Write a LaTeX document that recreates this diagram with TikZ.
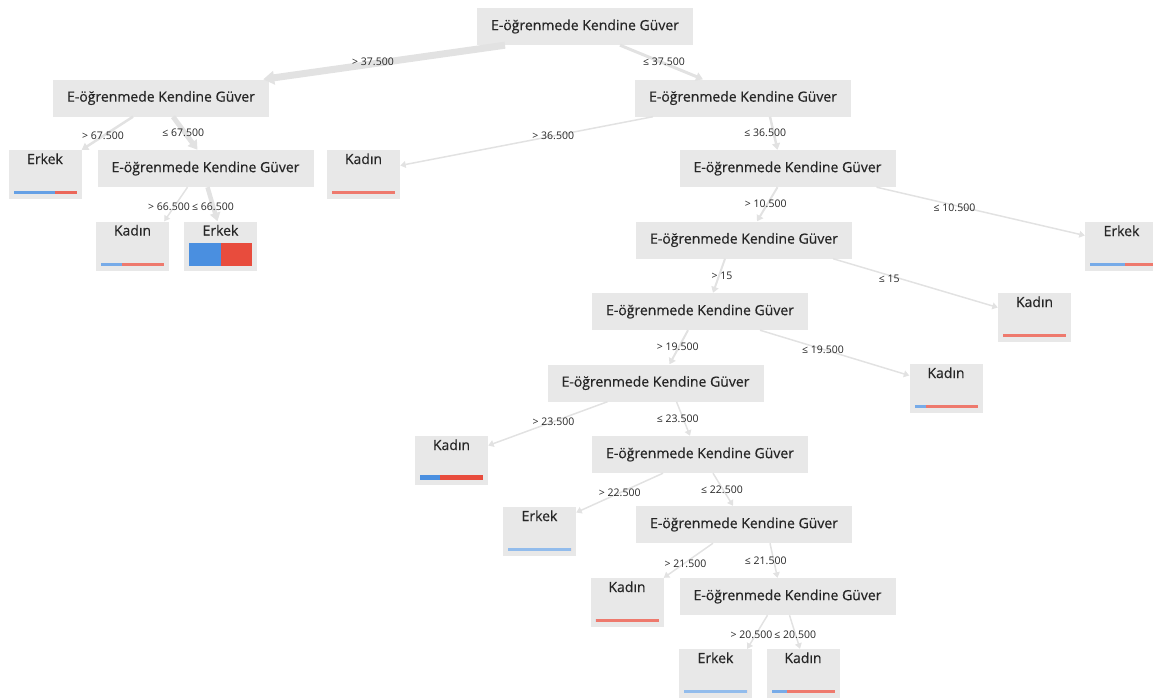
\documentclass[tikz,border=0pt]{standalone}
\usepackage{fontspec}
\setmainfont{Open Sans}
\newfontfamily\boxfont[FakeBold=0.5]{Open Sans}
\usetikzlibrary{arrows.meta,calc,positioning}
\definecolor{boxgray}{HTML}{E8E8E8}
\definecolor{linkgray}{HTML}{E2E2E2}
\definecolor{txtgray}{HTML}{262626}
\definecolor{erkblue}{HTML}{4A8FE0}
\definecolor{kadred}{HTML}{E84C3D}

\tikzset{
  split/.style={rectangle,fill=boxgray,minimum width=216pt,minimum height=37pt,inner sep=0pt,
    text=txtgray,font=\boxfont\fontsize{14}{16}\selectfont},
  leaf/.style n args={3}{rectangle,fill=boxgray,minimum width=73pt,inner sep=0pt,
    text height=14pt,text depth=35pt,text=txtgray,font=\boxfont\fontsize{14}{16}\selectfont,
    path picture={
      \coordinate (bl) at ([shift={(5pt,5pt)}]path picture bounding box.south west);
      \coordinate (br) at ([shift={(-5pt,5pt)}]path picture bounding box.south east);
      \fill[erkblue!#3] (bl) rectangle ($(bl)!#1!(br)+(0pt,#2)$);
      \fill[kadred!#3] ($(bl)!#1!(br)$) rectangle ($(br)+(0pt,#2)$);
    }},
  cut/.style={text=txtgray,font=\fontsize{10.5}{12}\selectfont,inner sep=0pt},
  link/.style={color=linkgray,line width=1.5pt,-{Triangle[length=4pt 1,width=5pt 1.2]}},
}

\begin{document}
\begin{tikzpicture}[x=1pt,y=-1pt]
\useasboundingbox (0,0) rectangle (1153,697);

% split nodes
\node[split] (g0) at (585,26.5) {E-öğrenmede Kendine Güver};
\node[split] (g1) at (161,98) {E-öğrenmede Kendine Güver};
\node[split] (g2) at (743,98) {E-öğrenmede Kendine Güver};
\node[split] (g3) at (205.5,168.5) {E-öğrenmede Kendine Güver};
\node[split] (g4) at (787.5,168.5) {E-öğrenmede Kendine Güver};
\node[split] (g5) at (744,240) {E-öğrenmede Kendine Güver};
\node[split] (g6) at (700,311.5) {E-öğrenmede Kendine Güver};
\node[split] (g7) at (655.5,383) {E-öğrenmede Kendine Güver};
\node[split] (g8) at (700,454.5) {E-öğrenmede Kendine Güver};
\node[split] (g9) at (744,524.5) {E-öğrenmede Kendine Güver};
\node[split] (g10) at (787.5,596.5) {E-öğrenmede Kendine Güver};

% leaves
\node[leaf={0.66}{3pt}{85}] (erkek1) at (45,174.5) {Erkek};
\node[leaf={0.33}{3pt}{75}] (kadin1) at (132.5,246) {Kadın};
\node[leaf={0.5}{23pt}{100}] (erkek2) at (220.5,246) {Erkek};
\node[leaf={0}{3pt}{75}] (kadin2) at (363.5,174.5) {Kadın};
\node[leaf={0.55}{3pt}{75}] (erkek3) at (1121.5,246.5) {Erkek};
\node[leaf={0}{3pt}{75}] (kadin3) at (1034.5,317.5) {Kadın};
\node[leaf={0.19}{3pt}{75}] (kadin4) at (946,388.5) {Kadın};
\node[leaf={0.32}{5pt}{100}] (kadin5) at (451.5,460.5) {Kadın};
\node[leaf={1}{3pt}{60}] (erkek4) at (539.5,531.5) {Erkek};
\node[leaf={0}{3pt}{75}] (kadin6) at (627,602.5) {Kadın};
\node[leaf={1}{3pt}{60}] (erkek5) at (715.5,673.5) {Erkek};
\node[leaf={0.25}{3pt}{75}] (kadin7) at (803,673.5) {Kadın};

% links
\path[link]
  ([xshift=-80pt]g0.south) edge[line width=7pt] ([xshift=-6pt]g1.north east)
  ([xshift=35pt]g0.south) edge[line width=3pt] ([xshift=-40pt]g2.north)
  ([xshift=-28pt]g1.south) edge[line width=2.5pt] (erkek1.north east)
  ([xshift=12pt]g1.south) edge[line width=5pt] ([xshift=-8pt]g3.north)
  ([xshift=-18pt]g3.south) edge ([xshift=-5pt]kadin1.north east)
  ([xshift=2pt]g3.south) edge[line width=4.5pt] ([xshift=-3pt]erkek2.north)
  ([xshift=-90pt]g2.south) edge ([yshift=9pt]kadin2.east)
  ([xshift=27pt]g2.south) edge[line width=2.5pt] ([xshift=-10pt]g4.north)
  ([xshift=-10pt]g4.south) edge[line width=2pt] ([xshift=13pt]g5.north)
  ([xshift=89pt]g4.south) edge ([yshift=11pt]erkek3.west)
  ([xshift=-19pt]g5.south) edge[line width=2pt] ([xshift=13pt]g6.north)
  ([xshift=89pt]g5.south) edge ([yshift=10pt]kadin3.west)
  ([xshift=-12pt]g6.south) edge[line width=2pt] ([xshift=14pt]g7.north)
  ([xshift=60pt]g6.south) edge ([yshift=13pt]kadin4.west)
  ([xshift=-48pt]g7.south) edge ([yshift=15pt]kadin5.east)
  ([xshift=21pt]g7.south) edge ([xshift=-10pt]g8.north)
  ([xshift=-37pt]g8.south) edge ([yshift=19pt]erkek4.east)
  ([xshift=13pt]g8.south) edge ([xshift=-11pt]g9.north)
  ([xshift=-31pt]g9.south) edge (kadin6.north east)
  ([xshift=26pt]g9.south) edge ([xshift=-10pt]g10.north)
  ([xshift=-20pt]g10.south) edge ([xshift=-5pt]erkek5.north east)
  ([xshift=2pt]g10.south) edge ([xshift=-3pt]kadin7.north);

% thresholds
\node[cut] (c1) at ($(g0)!0.5!(g1)$) {> 37.500};
\node[cut] (c2) at ($(g0)!0.5!(g2)$) {≤ 37.500};
\node[cut] (c3) at ($(g1)!0.5!(erkek1)$) {> 67.500};
\node[cut] (c4) at ($(g1)!0.5!(g3)$) {≤ 67.500};
\node[cut] (c5) at ($(g3)!0.5!(kadin1)$) {> 66.500};
\node[cut] (c6) at ($(g3)!0.5!(erkek2)$) {≤ 66.500};
\node[cut] (c7) at ($(g2)!0.5!(kadin2)$) {> 36.500};
\node[cut] (c8) at ($(g2)!0.5!(g4)$) {≤ 36.500};
\node[cut] (c9) at ($(g4)!0.5!(g5)$) {> 10.500};
\node[cut] (c10) at ($(g4)!0.5!(erkek3)$) {≤ 10.500};
\node[cut] (c11) at ($(g5)!0.5!(g6)$) {> 15};
\node[cut] (c12) at ($(g5)!0.5!(kadin3)$) {≤ 15};
\node[cut] (c13) at ($(g6)!0.5!(g7)$) {> 19.500};
\node[cut] (c14) at ($(g6)!0.5!(kadin4)$) {≤ 19.500};
\node[cut] (c15) at ($(g7)!0.5!(kadin5)$) {> 23.500};
\node[cut] (c16) at ($(g7)!0.5!(g8)$) {≤ 23.500};
\node[cut] (c17) at ($(g8)!0.5!(erkek4)$) {> 22.500};
\node[cut] (c18) at ($(g8)!0.5!(g9)$) {≤ 22.500};
\node[cut] (c19) at ($(g9)!0.5!(kadin6)$) {> 21.500};
\node[cut] (c20) at ($(g9)!0.5!(g10)$) {≤ 21.500};
\node[cut] (c21) at ($(g10)!0.5!(erkek5)$) {> 20.500};
\node[cut] (c22) at ($(g10)!0.5!(kadin7)$) {≤ 20.500};
\end{tikzpicture}
\end{document}
